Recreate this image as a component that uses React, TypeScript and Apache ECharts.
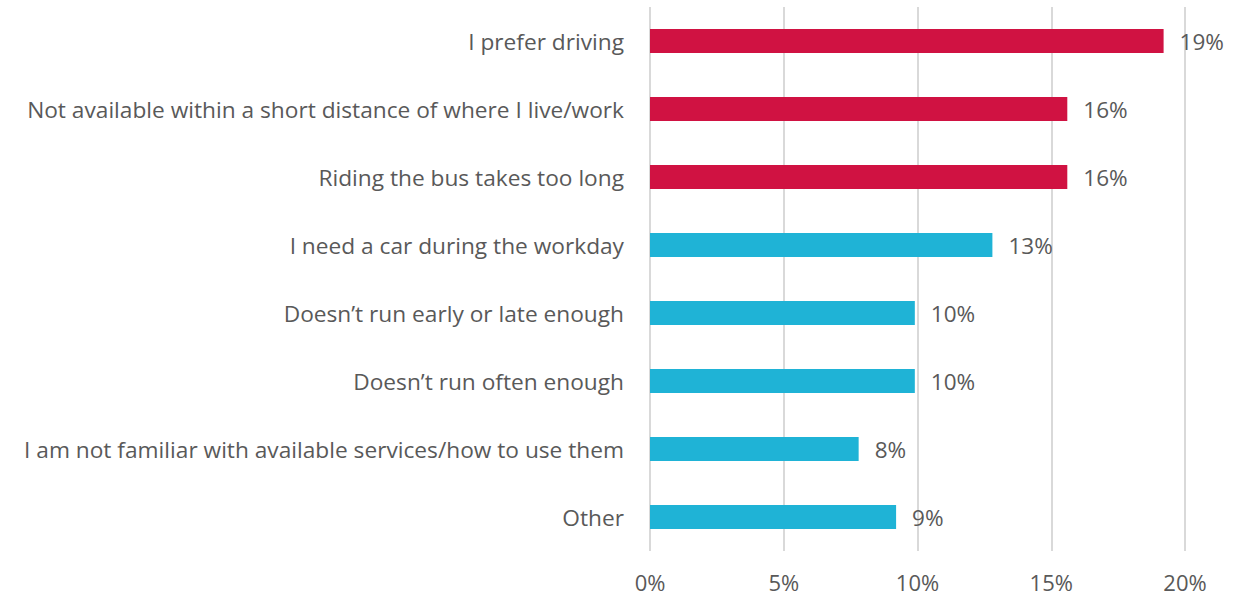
import React, { useEffect, useRef } from "react";
import * as echarts from "echarts";

const categories = [
  "I prefer driving",
  "Not available within a short distance of where I live/work",
  "Riding the bus takes too long",
  "I need a car during the workday",
  "Doesn\u2019t run early or late enough",
  "Doesn\u2019t run often enough",
  "I am not familiar with available services/how to use them",
  "Other",
];
const values = [19.2, 15.6, 15.6, 12.8, 9.9, 9.9, 7.8, 9.2];
const highlighted = [true, true, true, false, false, false, false, false];
const RED = "#D01242";
const CYAN = "#1FB3D6";
const FONT = "'Open Sans', 'Noto Sans', sans-serif";
const TEXT = "#595959";

export default function App() {
  const ref = useRef<HTMLDivElement>(null);
  useEffect(() => {
    if (!ref.current) return;
    const chart = echarts.init(ref.current, undefined, { renderer: "svg" });
    const cats = [...categories].reverse();
    const data = values
      .map((v, i) => ({ value: v, itemStyle: { color: highlighted[i] ? RED : CYAN } }))
      .reverse();
    chart.setOption({
      animation: false,
      grid: { left: 650, right: 58, top: 7, bottom: 47, containLabel: false },
      xAxis: {
        type: "value",
        min: 0,
        max: 20,
        interval: 5,
        axisLine: { show: false },
        axisTick: { show: false },
        splitLine: { show: true, lineStyle: { color: "#D9D9D9", width: 2 } },
        axisLabel: {
          formatter: (v: number) => v + "%",
          color: TEXT,
          fontFamily: FONT,
          fontSize: 22,
          margin: 20,
        },
      },
      yAxis: {
        type: "category",
        data: cats,
        axisLine: { show: false },
        axisTick: { show: false },
        axisLabel: { color: TEXT, fontFamily: FONT, fontSize: 22.7, margin: 26 },
      },
      series: [
        {
          type: "bar",
          data,
          barWidth: 24,
          label: {
            show: true,
            position: "right",
            distance: 16,
            formatter: (p: any) => Math.round(p.value) + "%",
            color: TEXT,
            fontFamily: FONT,
            fontSize: 22.5,
          },
        },
      ],
    });
    return () => chart.dispose();
  }, []);
  return <div ref={ref} style={{ width: 1243, height: 598, position: "absolute", left: 0, top: 0 }} />;
}
